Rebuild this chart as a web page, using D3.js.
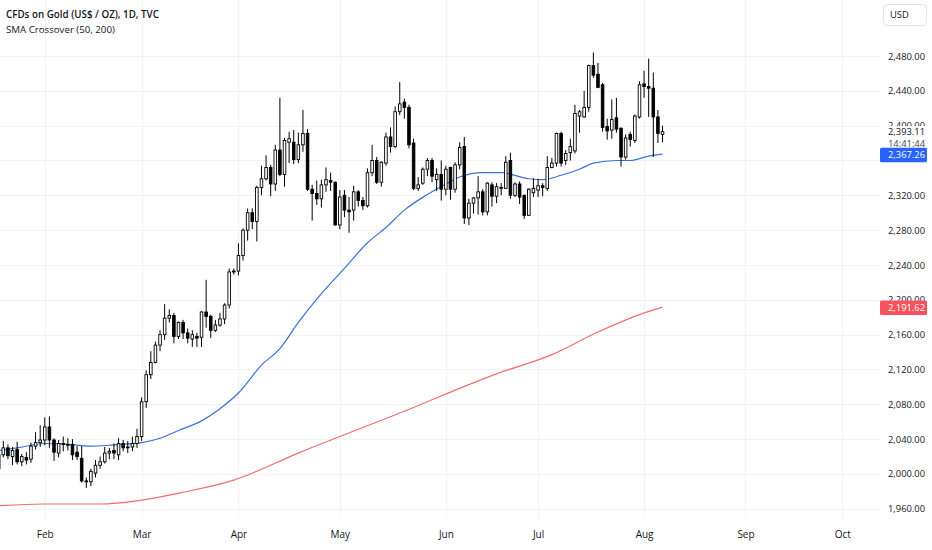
<!DOCTYPE html>
<html><head><meta charset="utf-8">
<script src="https://cdn.jsdelivr.net/npm/d3@7"></script>
<style>
body{margin:0;background:#fff}
svg{display:block}
text{font-family:"Open Sans","Noto Sans",sans-serif;}
</style>
</head><body>
<svg id="c" width="932" height="550"></svg>
<script>
// ---------- DATA ----------
const title = "CFDs on Gold (US$ / OZ), 1D, TVC";
const subtitle = "SMA Crossover (50, 200)";
const currency = "USD";

const dates = [
"2024-01-17","2024-01-18","2024-01-19","2024-01-22","2024-01-23","2024-01-24","2024-01-25","2024-01-26","2024-01-29","2024-01-30","2024-01-31",
"2024-02-01","2024-02-02","2024-02-05","2024-02-06","2024-02-07","2024-02-08","2024-02-09","2024-02-12","2024-02-13","2024-02-14","2024-02-15","2024-02-16","2024-02-19","2024-02-20","2024-02-21","2024-02-22","2024-02-23","2024-02-26","2024-02-27","2024-02-28","2024-02-29",
"2024-03-01","2024-03-04","2024-03-05","2024-03-06","2024-03-07","2024-03-08","2024-03-11","2024-03-12","2024-03-13","2024-03-14","2024-03-15","2024-03-18","2024-03-19","2024-03-20","2024-03-21","2024-03-22","2024-03-25","2024-03-26","2024-03-27","2024-03-28","2024-03-29",
"2024-04-01","2024-04-02","2024-04-03","2024-04-04","2024-04-05","2024-04-08","2024-04-09","2024-04-10","2024-04-11","2024-04-12","2024-04-15","2024-04-16","2024-04-17","2024-04-18","2024-04-19","2024-04-22","2024-04-23","2024-04-24","2024-04-25","2024-04-26","2024-04-29","2024-04-30",
"2024-05-01","2024-05-02","2024-05-03","2024-05-06","2024-05-07","2024-05-08","2024-05-09","2024-05-10","2024-05-13","2024-05-14","2024-05-15","2024-05-16","2024-05-17","2024-05-20","2024-05-21","2024-05-22","2024-05-23","2024-05-24","2024-05-27","2024-05-28","2024-05-29","2024-05-30","2024-05-31",
"2024-06-03","2024-06-04","2024-06-05","2024-06-06","2024-06-07","2024-06-10","2024-06-11","2024-06-12","2024-06-13","2024-06-14","2024-06-17","2024-06-18","2024-06-19","2024-06-20","2024-06-21","2024-06-24","2024-06-25","2024-06-26","2024-06-27","2024-06-28",
"2024-07-01","2024-07-02","2024-07-03","2024-07-04","2024-07-05","2024-07-08","2024-07-09","2024-07-10","2024-07-11","2024-07-12","2024-07-15","2024-07-16","2024-07-17","2024-07-18","2024-07-19","2024-07-22","2024-07-23","2024-07-24","2024-07-25","2024-07-26","2024-07-29","2024-07-30","2024-07-31",
"2024-08-01","2024-08-02","2024-08-05","2024-08-06","2024-08-07"
];
const open = [
2028,2006,2022,2030,2020,2028,2014,2019,2017,2032,2036,
2039,2054,2039,2024,2035,2034,2034,2025,2018,1992,1991,2001,2010,2014,2024,2027,2022,2035,2030,2031,2035,
2043,2083,2114,2128,2148,2160,2179,2182,2158,2174,2162,2155,2158,2157,2186,2181,2165,2171,2178,2194,2232,
2233,2251,2280,2300,2290,2329,2339,2352,2333,2372,2344,2381,2381,2361,2378,2391,2327,2322,2316,2332,2337,2335,
2286,2320,2303,2303,2324,2314,2308,2346,2360,2335,2357,2387,2376,2416,2427,2421,2380,2328,2334,2350,2360,2338,2344,
2327,2352,2327,2355,2376,2294,2311,2317,2324,2301,2332,2319,2328,2328,2360,2320,2333,2320,2297,2323,
2326,2331,2328,2352,2357,2391,2360,2369,2371,2411,2410,2421,2469,2459,2447,2399,2395,2409,2397,2364,2390,2383,2410,
2448,2445,2443,2410,2390
];
const high = [
2031,2025,2038,2034,2031,2037,2023,2025,2036,2048,2056,
2065,2066,2041,2039,2043,2041,2040,2032,2032,1996,2006,2016,2020,2031,2030,2035,2041,2039,2038,2043,2052,
2088,2119,2141,2152,2165,2195,2189,2185,2175,2177,2167,2165,2162,2187,2223,2183,2177,2185,2196,2236,2236,
2265,2282,2305,2305,2331,2354,2366,2355,2378,2432,2386,2393,2395,2392,2418,2396,2332,2337,2338,2352,2346,2336,
2326,2326,2318,2331,2326,2318,2351,2378,2364,2359,2392,2398,2422,2450,2431,2424,2385,2341,2352,2363,2363,2351,2360,
2354,2353,2358,2381,2387,2316,2318,2342,2327,2335,2335,2334,2334,2365,2369,2335,2336,2321,2328,2340,
2339,2334,2365,2363,2392,2393,2372,2385,2424,2418,2440,2470,2484,2472,2449,2408,2430,2432,2398,2390,2393,2413,2451,
2463,2477,2461,2418,2400
];
const low = [
2001,2002,2019,2017,2010,2011,2009,2011,2013,2028,2031,
2033,2030,2015,2019,2026,2027,2016,2016,1990,1984,1986,1996,2006,2012,2017,2017,2016,2026,2024,2026,2030,
2038,2076,2109,2127,2141,2154,2174,2150,2155,2155,2150,2146,2146,2146,2168,2156,2163,2169,2172,2190,2229,
2228,2245,2268,2281,2267,2320,2337,2319,2325,2342,2330,2357,2356,2357,2370,2325,2291,2309,2306,2324,2325,2285,
2281,2295,2277,2291,2307,2303,2306,2342,2333,2330,2354,2369,2374,2412,2408,2374,2326,2325,2332,2342,2335,2325,2314,
2320,2315,2323,2350,2287,2286,2299,2298,2297,2297,2307,2311,2320,2328,2316,2318,2310,2293,2297,2318,
2318,2319,2325,2351,2353,2353,2355,2360,2368,2392,2409,2416,2455,2443,2393,2384,2385,2392,2353,2361,2376,2380,2408,
2432,2410,2364,2380,2381
];
const close = [
2006,2022,2030,2021,2027,2014,2020,2016,2032,2036,2039,
2054,2039,2025,2035,2034,2033,2022,2020,1992,1991,2003,2010,2014,2024,2026,2024,2035,2030,2031,2035,2043,
2083,2114,2128,2148,2160,2179,2182,2158,2174,2162,2156,2160,2156,2186,2181,2165,2171,2178,2194,2232,2233,
2251,2280,2300,2290,2329,2339,2352,2333,2372,2344,2383,2385,2361,2378,2391,2327,2322,2316,2332,2338,2335,2286,
2318,2303,2301,2324,2314,2308,2346,2360,2335,2358,2387,2376,2416,2425,2421,2378,2328,2332,2350,2360,2342,2344,2327,
2350,2327,2355,2375,2294,2311,2317,2324,2301,2334,2319,2330,2329,2358,2320,2333,2318,2297,2327,2328,
2331,2329,2352,2357,2391,2357,2368,2376,2414,2416,2421,2469,2458,2444,2398,2394,2407,2396,2364,2386,2384,2411,2447,
2445,2443,2410,2391,2393.11
];

// SMA 50 (blue)
const sma50Dates = ["2024-01-18","2024-01-24","2024-02-01","2024-02-08","2024-02-15","2024-02-22","2024-03-01","2024-03-07","2024-03-13","2024-03-20","2024-03-26","2024-04-01","2024-04-08","2024-04-12","2024-04-18","2024-04-25","2024-05-02","2024-05-09","2024-05-15","2024-05-21","2024-05-28","2024-06-03","2024-06-06","2024-06-13","2024-06-19","2024-06-27","2024-07-02","2024-07-08","2024-07-12","2024-07-17","2024-07-24","2024-07-29","2024-08-02","2024-08-07"];
const sma50Values = [2027,2030,2035,2034,2032,2033.5,2036,2041,2050,2061,2075,2093,2125,2144,2174,2207,2236,2265.5,2283,2303,2321,2333,2341,2346,2346,2339,2338,2343,2350,2357,2360,2360,2365,2367.26];

// SMA 200 (red)
const sma200Dates = ["2024-01-18","2024-02-01","2024-02-19","2024-03-01","2024-03-14","2024-03-29","2024-04-18","2024-05-20","2024-06-18","2024-07-04","2024-07-18","2024-07-31","2024-08-07"];
const sma200Values = [1963.5,1965.5,1965.5,1970,1979,1993,2024,2070,2115,2137,2163,2183,2191.62];

const priceTicks = [1960,2000,2040,2080,2120,2160,2200,2240,2280,2320,2360,2400,2440,2480];
const priceLabels = [1960,2000,2040,2080,2120,2160,2200,2240,2280,2320,2400,2440,2480]; // 2,360 hidden behind the SMA tag
const monthLabels = ["Feb","Mar","Apr","May","Jun","Jul","Aug","Sep","Oct"];
const monthStarts = ["2024-02-01","2024-03-01","2024-04-01","2024-05-01","2024-06-03","2024-07-01","2024-08-01","2024-09-02","2024-10-01"];
const lastPrice = 2393.11;
const countdown = "14:41:44";

// ---------- LAYOUT ----------
const W = 932, H = 550;
const plotR = 880, plotB = 518;
const FS = 9.4;
const fmtDay = d3.utcFormat("%Y-%m-%d");
const axisDays = d3.utcDay.range(new Date(Date.UTC(2024,0,17)), new Date(Date.UTC(2024,9,31)))
  .filter(d => d.getUTCDay() !== 0 && d.getUTCDay() !== 6).map(fmtDay);
const iFeb = axisDays.indexOf("2024-02-01"), iOct = axisDays.indexOf("2024-10-01");
const step = (842.3 - 44.8) / (iOct - iFeb);
const x0 = 44.8 - iFeb * step;
const x = d3.scalePoint().domain(axisDays).range([x0, x0 + step * (axisDays.length - 1)]);
const y = d3.scaleLinear().domain([1960, 2480]).range([508.8, 56]);

const svg = d3.select("#c");
svg.append("rect").attr("width", W).attr("height", H).attr("fill", "#fff");

const defs = svg.append("defs");
defs.append("clipPath").attr("id", "plot").append("rect").attr("x", 0).attr("y", 0).attr("width", plotR).attr("height", plotB);

// grid
const grid = svg.append("g").attr("stroke", "#f0f2f6").attr("stroke-width", 1);
grid.selectAll("line.h").data(priceTicks).join("line").attr("class","h")
  .attr("x1", 0).attr("x2", plotR).attr("y1", d => Math.round(y(d)) + 0.5).attr("y2", d => Math.round(y(d)) + 0.5);
grid.selectAll("line.v").data(monthStarts).join("line").attr("class","v")
  .attr("x1", d => Math.round(x(d)) + 0.5).attr("x2", d => Math.round(x(d)) + 0.5).attr("y1", 0).attr("y2", plotB);

const plot = svg.append("g").attr("clip-path", "url(#plot)");

// SMA lines
const sma200 = sma200Dates.map((d, i) => ({d, v: sma200Values[i]}));
const sma50 = sma50Dates.map((d, i) => ({d, v: sma50Values[i]}));
const line = d3.line().x(p => x(p.d)).y(p => y(p.v)).curve(d3.curveMonotoneX);
plot.append("path").datum(sma200).attr("d", line).attr("fill", "none").attr("stroke", "#f26d6d").attr("stroke-width", 1.2);
plot.append("path").datum(sma50).attr("d", line).attr("fill", "none").attr("stroke", "#3d6fdc").attr("stroke-width", 1.2);

// candles
const candles = dates.map((d, i) => ({d, o: open[i], h: high[i], l: low[i], c: close[i]}));
const cg = plot.append("g");
cg.selectAll("line").data(candles).join("line")
  .attr("x1", k => x(k.d)).attr("x2", k => x(k.d))
  .attr("y1", k => y(k.h)).attr("y2", k => y(k.l))
  .attr("stroke", "#000").attr("stroke-width", 1);
const bw = 2.6;
cg.selectAll("rect").data(candles).join("rect")
  .attr("x", k => x(k.d) - bw / 2)
  .attr("width", bw)
  .attr("y", k => y(Math.max(k.o, k.c)))
  .attr("height", k => Math.max(0.6, Math.abs(y(k.o) - y(k.c))))
  .attr("fill", k => k.c >= k.o ? "#fff" : "#000")
  .attr("stroke", "#000").attr("stroke-width", 0.9);

// price axis
const yAxis = d3.axisRight(y).tickValues(priceLabels).tickFormat(d3.format(",.2f")).tickSize(0).tickPadding(0);
const ya = svg.append("g").attr("transform", "translate(888,0)").call(yAxis);
ya.select(".domain").remove();
ya.selectAll("text").attr("font-size", FS).attr("fill", "#131722").attr("font-family", "'Open Sans','Noto Sans',sans-serif");

// time axis
const xAxis = d3.axisBottom(x).tickValues(monthStarts).tickFormat((d, i) => monthLabels[i]).tickSize(0).tickPadding(0);
const xa = svg.append("g").attr("transform", "translate(0,531)").call(xAxis);
xa.select(".domain").remove();
xa.selectAll("text").attr("font-size", 10).attr("fill", "#131722").attr("font-family", "'Open Sans','Noto Sans',sans-serif");

// last price label (covers part of 2,400.00)
const yl = y(lastPrice);
svg.append("rect").attr("x", 881).attr("y", yl - 5.5).attr("width", 51).attr("height", 19).attr("fill", "#fff");
svg.append("text").attr("x", 888).attr("y", yl).attr("dy", "0.35em").attr("font-size", FS).attr("fill", "#131722")
  .text(d3.format(",.2f")(lastPrice));
svg.append("text").attr("x", 888).attr("y", yl + 12).attr("dy", "0.35em").attr("font-size", FS).attr("fill", "#434651")
  .text(countdown);

// SMA value tags
function tag(v, color) {
  const yy = y(v);
  svg.append("rect").attr("x", 880).attr("y", yy - 6.5).attr("width", 47).attr("height", 14.5).attr("rx", 1.5).attr("fill", color);
  svg.append("text").attr("x", 888).attr("y", yy + 0.8).attr("dy", "0.35em").attr("font-size", FS).attr("fill", "#fff")
    .text(d3.format(",.2f")(v));
}
tag(sma50Values[sma50Values.length - 1], "#2962ff");
tag(sma200Values[sma200Values.length - 1], "#f7525f");

// currency box
svg.append("rect").attr("x", 883.5).attr("y", 4.5).attr("width", 43).attr("height", 21).attr("rx", 4)
  .attr("fill", "#fff").attr("stroke", "#e0e3eb");
svg.append("text").attr("x", 890).attr("y", 15).attr("dy", "0.35em").attr("font-size", FS).attr("fill", "#131722").text(currency);

// header
svg.append("text").attr("x", 6).attr("y", 15).attr("dy", "0.35em").attr("font-size", 9.8).attr("font-weight", 600)
  .attr("fill", "#131722").text(title);
svg.append("text").attr("x", 6).attr("y", 29.5).attr("dy", "0.35em").attr("font-size", 9.7)
  .attr("fill", "#131722").text(subtitle);
</script>
</body></html>
